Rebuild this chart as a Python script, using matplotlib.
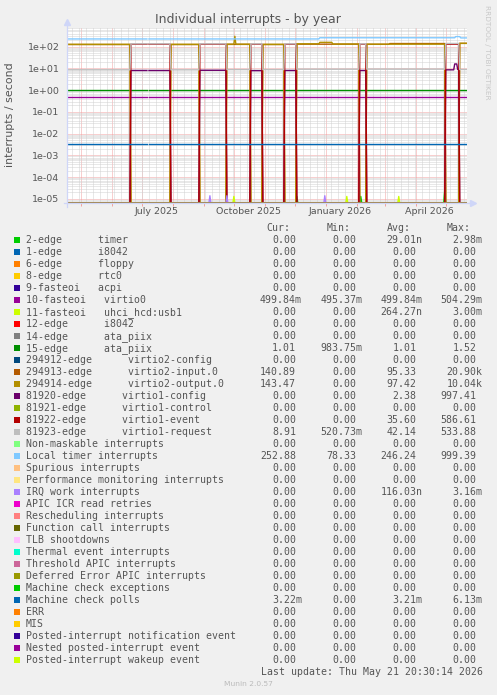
import numpy as np
import matplotlib
matplotlib.use("Agg")
import matplotlib.pyplot as plt
import matplotlib.dates as mdates
from matplotlib.patches import Rectangle
from matplotlib.ticker import LogLocator, NullFormatter, FuncFormatter
from datetime import datetime, timedelta
import pandas as pd

# ---------------------------------------------------------------- data
end_time = datetime(2026, 5, 21, 20, 30, 14)
n_days = 400
missing_days = [81]

# (start_day, end_day, value) pieces
virtio0_segments = [(0, 401, 0.4998)]
ata_piix15_segments = [(0, 401, 1.01)]
machine_check_polls_segments = [(0, 401, 3.21e-3)]
local_timer_segments = [(0, 253, 226), (253, 389, 256), (389, 394, 290), (394, 401, 252)]
virtio2_input_segments = [(0, 64, 125), (104, 133, 125), (160, 184, 127), (196, 218, 125),
                          (230, 293, 130), (300, 323, 128), (323, 379, 139), (393, 401, 141)]
virtio2_output_segments = [(0, 64, 128), (104, 133, 128), (160, 184, 130), (196, 218, 128),
                           (230, 253, 135), (253, 266, 158), (266, 293, 132), (300, 379, 130),
                           (393, 401, 143)]
virtio2_output_spikes = [(168, 300)]
virtio1_config_segments = [(64, 104, 8.0), (133, 160, 8.2), (184, 196, 7.9), (218, 230, 8.0),
                           (293, 300, 8.0), (379, 388, 8.6), (388, 391, 16), (391, 393, 9)]
virtio1_event_segments = [(64, 104, 130), (133, 160, 130), (184, 196, 130), (218, 230, 130),
                          (293, 300, 130), (379, 393, 130)]
virtio1_request_segments = [(0, 64, 8.6), (64, 104, 135), (104, 133, 8.6), (133, 160, 135),
                            (160, 184, 8.8), (184, 196, 135), (196, 218, 8.8), (218, 230, 135),
                            (230, 293, 9.2), (293, 300, 135), (300, 379, 9.3), (379, 393, 140),
                            (393, 401, 8.9)]
timer_spikes = [(230, 1.3e-5), (294, 1.3e-5), (378, 2.4e-5)]
uhci_spikes = [(167, 1.3e-5), (280, 1.3e-5), (332, 1.3e-5)]
irq_work_spikes = [(143, 1.4e-5), (160, 1.4e-5), (258, 1.4e-5)]

legend_labels = [
    "2-edge      timer", "1-edge      i8042", "6-edge      floppy", "8-edge      rtc0",
    "9-fasteoi   acpi", "10-fasteoi   virtio0", "11-fasteoi   uhci_hcd:usb1",
    "12-edge      i8042", "14-edge      ata_piix", "15-edge      ata_piix",
    "294912-edge      virtio2-config", "294913-edge      virtio2-input.0",
    "294914-edge      virtio2-output.0", "81920-edge      virtio1-config",
    "81921-edge      virtio1-control", "81922-edge      virtio1-event",
    "81923-edge      virtio1-request", "Non-maskable interrupts", "Local timer interrupts",
    "Spurious interrupts", "Performance monitoring interrupts", "IRQ work interrupts",
    "APIC ICR read retries", "Rescheduling interrupts", "Function call interrupts",
    "TLB shootdowns", "Thermal event interrupts", "Threshold APIC interrupts",
    "Deferred Error APIC interrupts", "Machine check exceptions", "Machine check polls",
    "ERR", "MIS", "Posted-interrupt notification event", "Nested posted-interrupt event",
    "Posted-interrupt wakeup event",
]
series_colors = [
    "#00CC00", "#0066B3", "#FF8000", "#FFCC00", "#330099", "#990099", "#CCFF00", "#FF0000",
    "#808080", "#008F00", "#00487D", "#B35A00", "#B38F00", "#6B006B", "#8FB300", "#B30000",
    "#BEBEBE", "#80FF80", "#80C9FF", "#FFC080", "#FFE680", "#AA80FF", "#EE00CC", "#FF8080",
    "#666600", "#FFBFFF", "#00FFCC", "#CC6699", "#999900", "#00CC00", "#0066B3", "#FF8000",
    "#FFCC00", "#330099", "#990099", "#CCFF00",
]
cur_values = (["0.00"] * 5 + ["499.84m"] + ["0.00"] * 3 + ["1.01", "0.00", "140.89", "143.47"]
              + ["0.00"] * 3 + ["8.91", "0.00", "252.88"] + ["0.00"] * 11 + ["3.22m"] + ["0.00"] * 5)
min_values = (["0.00"] * 5 + ["495.37m"] + ["0.00"] * 3 + ["983.75m"] + ["0.00"] * 6
              + ["520.73m", "0.00", "78.33"] + ["0.00"] * 17)
avg_values = (["29.01n"] + ["0.00"] * 4 + ["499.84m", "264.27n", "0.00", "0.00", "1.01", "0.00",
              "95.33", "97.42", "2.38", "0.00", "35.60", "42.14", "0.00", "246.24", "0.00", "0.00",
              "116.03n"] + ["0.00"] * 8 + ["3.21m"] + ["0.00"] * 5)
max_values = (["2.98m"] + ["0.00"] * 4 + ["504.29m", "3.00m", "0.00", "0.00", "1.52", "0.00",
              "20.90k", "10.04k", "997.41", "0.00", "586.61", "533.88", "0.00", "999.39", "0.00",
              "0.00", "3.16m"] + ["0.00"] * 8 + ["6.13m"] + ["0.00"] * 5)

series_pieces = {
    0: ([], timer_spikes),
    5: (virtio0_segments, []),
    6: ([], uhci_spikes),
    9: (ata_piix15_segments, []),
    11: (virtio2_input_segments, []),
    12: (virtio2_output_segments, virtio2_output_spikes),
    13: (virtio1_config_segments, []),
    15: (virtio1_event_segments, []),
    16: (virtio1_request_segments, []),
    18: (local_timer_segments, []),
    21: ([], irq_work_spikes),
    30: (machine_check_polls_segments, []),
}

# ---------------------------------------------------------------- figure
W, H = 497, 695
BG = "#F0F0F0"
fig = plt.figure(figsize=(W / 100, H / 100), dpi=100, facecolor=BG)


def px(x, y):
    return x / W, 1 - y / H


AX_L, AX_R, AX_T, AX_B = 67, 466.7, 28, 203.3
ax = fig.add_axes([AX_L / W, 1 - AX_B / H, (AX_R - AX_L) / W, (AX_B - AX_T) / H])
ax.set_facecolor("white")

start_time = end_time - timedelta(days=n_days)
dates = [start_time + timedelta(days=i) for i in range(n_days + 1)]


def build(segments, spikes):
    v = np.zeros(n_days + 1)
    for s, e, val in segments:
        v[s:e] = val
    for d, val in spikes:
        v[d] = val
    v[missing_days] = np.nan
    return v


ymin, ymax = 6.3e-6, 720
for i, col in enumerate(series_colors):
    segs, spikes = series_pieces.get(i, ([], []))
    vals = build(segs, spikes)
    ax.plot(dates, np.fmax(vals, ymin) if False else np.where(np.isnan(vals), np.nan, np.maximum(vals, ymin)),
            color=col, lw=1.0, zorder=3)

ax.set_yscale("log")
ax.set_ylim(ymin, ymax)
ax.set_xlim(dates[0], dates[-1])

# grid
GRID = "#D2D2D2"
MGRID = "#F2A0A0"
dash = (0, (1, 1))
ax.yaxis.set_major_locator(LogLocator(base=10, numticks=20))
ax.yaxis.set_minor_locator(LogLocator(base=10, subs=np.arange(2, 10), numticks=20))
ax.yaxis.set_minor_formatter(NullFormatter())
ax.yaxis.set_major_formatter(FuncFormatter(lambda v, p: f"{v:.0e}"))
ax.yaxis.grid(True, which="major", color=MGRID, ls=dash, lw=0.72, zorder=1)
ax.yaxis.grid(True, which="minor", color=GRID, ls=dash, lw=0.72, zorder=1)

ax.xaxis.set_major_locator(mdates.MonthLocator(bymonth=[1, 4, 7, 10], bymonthday=15))
ax.xaxis.set_major_formatter(mdates.DateFormatter("%B %Y"))
ax.xaxis.set_minor_locator(mdates.MonthLocator(bymonthday=1))
ax.xaxis.grid(True, which="minor", color=MGRID, ls=dash, lw=0.72, zorder=1)
for wk in pd.date_range(dates[0], dates[-1], freq="W-MON"):
    ax.axvline(wk, color=GRID, ls=dash, lw=0.72, zorder=0.9)
ax.set_axisbelow(True)

TICKC = "#555555"
ax.tick_params(axis="y", which="major", length=0, pad=5.5, labelsize=6.8, labelcolor=TICKC)
ax.tick_params(axis="y", which="minor", length=0)
ax.tick_params(axis="x", which="major", length=0, pad=3, labelsize=6.8, labelcolor=TICKC)
ax.tick_params(axis="x", which="minor", length=2.5, color=MGRID, width=0.7)

for s in ax.spines.values():
    s.set_visible(False)
AXC = "#CFD6F8"
top_ext = (AX_B - 22) / (AX_B - AX_T)
right_ext = (473 - AX_L) / (AX_R - AX_L)
ax.plot([0, 0], [-0.02, top_ext], transform=ax.transAxes, color=AXC, lw=0.9, clip_on=False, zorder=5)
ax.plot([-0.008, right_ext], [0, 0], transform=ax.transAxes, color=AXC, lw=0.9, clip_on=False, zorder=5)
ax.plot([0], [top_ext], marker="^", ms=4, color=AXC, transform=ax.transAxes, clip_on=False, zorder=5)
ax.plot([right_ext], [0], marker=">", ms=4, color=AXC, transform=ax.transAxes, clip_on=False, zorder=5)

# titles
TXT = "#555555"
fig.text(*px(248, 23.2), "Individual interrupts - by year", ha="center", va="baseline",
         size=9, color=TXT)
fig.text(*px(10, 115), "interrupts / second", ha="center", va="center", rotation=90,
         size=7.9, color=TXT)
fig.text(*px(487, 52.5), "RRDTOOL / TOBI OETIKER", ha="center", va="center", rotation=270,
         size=5.3, color="#C8C8C8")

# legend table
MONO = "DejaVu Sans Mono"
FS = 7.15
CW = 5.95
row0, dy = 239.7, 12.0
col_right = [302, 362.7, 422.7, 482.7]
for hdr, xr in zip(["Cur:", "Min:", "Avg:", "Max:"], col_right):
    fig.text(*px(xr - 2 * CW, 227.7 + 3.6), hdr, family=MONO, size=FS, ha="right",
             va="baseline", color=TXT)
for i, (lab, col) in enumerate(zip(legend_labels, series_colors)):
    yc = row0 + i * dy
    fig.patches.append(Rectangle(px(14, yc + 3.1), 5.8 / W, 5.8 / H,
                                 transform=fig.transFigure, facecolor=col, edgecolor="none"))
    fig.text(*px(26, yc + 3.6), lab, family=MONO, size=FS, ha="left", va="baseline", color=TXT)
    for vals, xr in zip([cur_values, min_values, avg_values, max_values], col_right):
        s = vals[i]
        xx = xr if s[-1].isalpha() else xr - CW
        fig.text(*px(xx, yc + 3.6), s, family=MONO, size=FS, ha="right", va="baseline", color=TXT)

fig.text(*px(482.7, row0 + 36 * dy + 3.6), "Last update: Thu May 21 20:30:14 2026",
         family=MONO, size=FS, ha="right", va="baseline", color=TXT)
fig.text(*px(248, 684), "Munin 2.0.57", ha="center", va="center", size=5.4, color="#BBBBBB")

fig.savefig("out.png", dpi=100, facecolor=BG)
